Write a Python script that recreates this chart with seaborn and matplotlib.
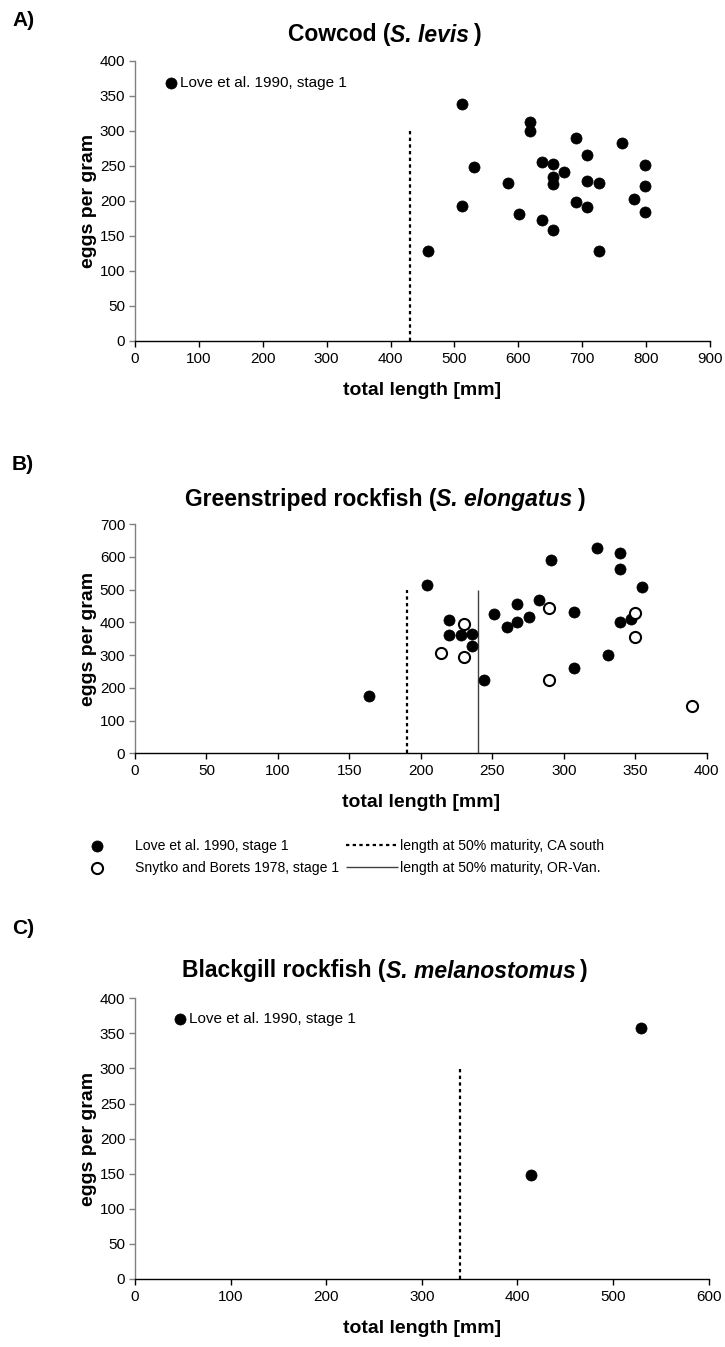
import numpy as np
import pandas as pd
import matplotlib
matplotlib.use("Agg")
import matplotlib.pyplot as plt
import seaborn as sns

# ---- data -------------------------------------------------------------
# Cowcod (S. levis), Love et al. 1990, stage 1
cowcod_length = [458, 512, 512, 530, 584, 601, 619, 619, 637, 637, 654, 654, 654, 655,
                 672, 690, 690, 708, 708, 708, 726, 726, 763, 781, 798, 798, 798]
cowcod_eggs = [129, 338, 193, 248, 225, 181, 312, 300, 255, 172, 253, 234, 224, 158,
               241, 289, 198, 266, 228, 191, 226, 129, 283, 202, 251, 221, 184]
cowcod_l50 = 430

# Greenstriped rockfish (S. elongatus)
green_love_length = [164, 204, 220, 220, 228, 236, 236, 244, 251, 260, 267, 267, 276, 283,
                     291, 307, 307, 323, 331, 339, 339, 339, 347, 355]
green_love_eggs = [175, 515, 407, 361, 361, 364, 327, 225, 425, 385, 456, 402, 415, 468,
                   590, 430, 261, 628, 300, 612, 563, 402, 409, 509]
green_snytko_length = [214, 230, 230, 290, 290, 350, 350, 390]
green_snytko_eggs = [306, 394, 293, 444, 224, 427, 354, 143]
green_l50_ca_south = 190
green_l50_or_van = 240

# Blackgill rockfish (S. melanostomus)
black_length = [414, 529]
black_eggs = [148, 357]
black_l50 = 340

sns.set_theme(style="ticks", rc={"text.color": "black", "axes.labelcolor": "black",
                                 "xtick.color": "black", "ytick.color": "black"})
plt.rcParams["font.family"] = ["Liberation Sans", "DejaVu Sans"]

W, H = 725, 1347
fig = plt.figure(figsize=(W / 100, H / 100), dpi=100)
fig.patch.set_facecolor("white")

TICK_FS = 11
LABEL_FS = 14
LEGEND_FS = 11
TITLE_FS = 16.5


def axes_px(left, top, right, bottom):
    return fig.add_axes([left / W, 1 - bottom / H, (right - left) / W, (bottom - top) / H])


def style_axes(ax, xmax, xstep, ymax, ystep):
    ax.set_facecolor("white")
    ax.set_xlim(0, xmax)
    ax.set_ylim(0, ymax)
    ax.set_xticks(np.arange(0, xmax + 1, xstep))
    ax.set_yticks(np.arange(0, ymax + 1, ystep))
    for s in ("top", "right"):
        ax.spines[s].set_visible(False)
    ax.spines["left"].set_color("#808080")
    ax.spines["bottom"].set_color("black")
    ax.spines["left"].set_linewidth(1)
    ax.spines["bottom"].set_linewidth(1)
    ax.tick_params(axis="both", direction="out", length=4, width=1,
                   labelsize=TICK_FS, pad=4, labelcolor="black")
    ax.tick_params(axis="y", color="#808080", pad=3)
    ax.tick_params(axis="x", color="black")
    ax.set_xlabel("total length [mm]", fontsize=LABEL_FS, fontweight="bold")
    ax.set_ylabel("eggs per gram", fontsize=LABEL_FS, fontweight="bold")
    bb = ax.get_position()
    w_px, h_px = bb.width * W, bb.height * H
    ax.xaxis.set_label_coords(0.5, -41 / h_px)
    ax.yaxis.set_label_coords(-38 / w_px, 0.5)
    ax.grid(False)


def mixed_title(pre, species, y_px, cx_px=385, size=TITLE_FS):
    renderer = fig.canvas.get_renderer()
    pieces = [(pre, "normal", 0), (species, "italic", 0), (")", "normal", 5)]
    texts, widths = [], []
    for s, st, gap in pieces:
        t = fig.text(0, 1 - y_px / H, s, fontsize=size, fontweight="bold", style=st,
                     va="center", ha="left")
        widths.append(t.get_window_extent(renderer).width + gap)
        texts.append(t)
    x = cx_px - sum(widths) / 2
    for t, (s, st, gap), w in zip(texts, pieces, widths):
        t.set_x((x + gap) / W)
        x += w


DOT = dict(color="black", edgecolor="black", s=64, linewidth=0.5, zorder=3)
OPEN = dict(facecolor="white", edgecolor="black", s=64, linewidth=1.5, zorder=3)
DASH = dict(color="black", linestyle=(0, (1.5, 1.5)), linewidth=1.6)
INLINE_LEGEND = dict(loc="upper left", frameon=False, fontsize=LEGEND_FS, handlelength=0.6,
                     handletextpad=0.3, borderpad=0, borderaxespad=0)

# ---- A) Cowcod --------------------------------------------------------
axA = axes_px(135, 60.7, 710, 341)
dfA = pd.DataFrame({"length": cowcod_length, "eggs": cowcod_eggs})
sns.scatterplot(data=dfA, x="length", y="eggs", ax=axA, label="Love et al. 1990, stage 1", **DOT)
axA.vlines(cowcod_l50, 0, 300, **DASH)
style_axes(axA, 900, 100, 400, 50)
axA.legend(bbox_to_anchor=((166 - 135) / 575, (341 - 76) / 280.3), **INLINE_LEGEND)

# ---- B) Greenstriped rockfish -----------------------------------------
axB = axes_px(135, 524, 706.7, 753.3)
dfB1 = pd.DataFrame({"length": green_love_length, "eggs": green_love_eggs})
dfB2 = pd.DataFrame({"length": green_snytko_length, "eggs": green_snytko_eggs})
sns.scatterplot(data=dfB1, x="length", y="eggs", ax=axB, label="Love et al. 1990, stage 1", **DOT)
sns.scatterplot(data=dfB2, x="length", y="eggs", ax=axB,
                label="Snytko and Borets 1978, stage 1", **OPEN)
axB.vlines(green_l50_ca_south, 0, 500, label="length at 50% maturity, CA south", **DASH)
axB.vlines(green_l50_or_van, 0, 500, color="#404040", linewidth=1,
           label="length at 50% maturity, OR-Van.")
style_axes(axB, 400, 50, 700, 100)
handles, labels = axB.get_legend_handles_labels()
if axB.get_legend() is not None:
    axB.get_legend().remove()
B_LEG_FS = 10.1
fig.legend(handles[:2], labels[:2], loc="upper left", bbox_to_anchor=(90 / W, 1 - 839 / H),
           frameon=False, fontsize=B_LEG_FS, handlelength=1.0, handletextpad=2.2,
           labelspacing=0.55, borderpad=0, borderaxespad=0)
fig.legend(handles[2:], labels[2:], loc="upper left", bbox_to_anchor=(346 / W, 1 - 839 / H),
           frameon=False, fontsize=B_LEG_FS, handlelength=3.7, handletextpad=0.14,
           labelspacing=0.55, borderpad=0, borderaxespad=0)

# ---- C) Blackgill rockfish --------------------------------------------
axC = axes_px(135, 998.3, 708.7, 1279)
dfC = pd.DataFrame({"length": black_length, "eggs": black_eggs})
sns.scatterplot(data=dfC, x="length", y="eggs", ax=axC, label="Love et al. 1990, stage 1", **DOT)
axC.vlines(black_l50, 0, 300, **DASH)
style_axes(axC, 600, 100, 400, 50)
axC.legend(bbox_to_anchor=((175 - 135) / 573.7, (1279 - 1012) / 280.7), **INLINE_LEGEND)

# ---- titles and panel letters -----------------------------------------
mixed_title("Cowcod (", "S. levis", 35)
mixed_title("Greenstriped rockfish (", "S. elongatus", 500)
mixed_title("Blackgill rockfish (", "S. melanostomus", 971)
for letter, y in (("A)", 20), ("B)", 465), ("C)", 928)):
    fig.text(12 / W, 1 - y / H, letter, fontsize=15, fontweight="bold", va="center", ha="left")

fig.savefig("out.png", dpi=100, facecolor="white")
